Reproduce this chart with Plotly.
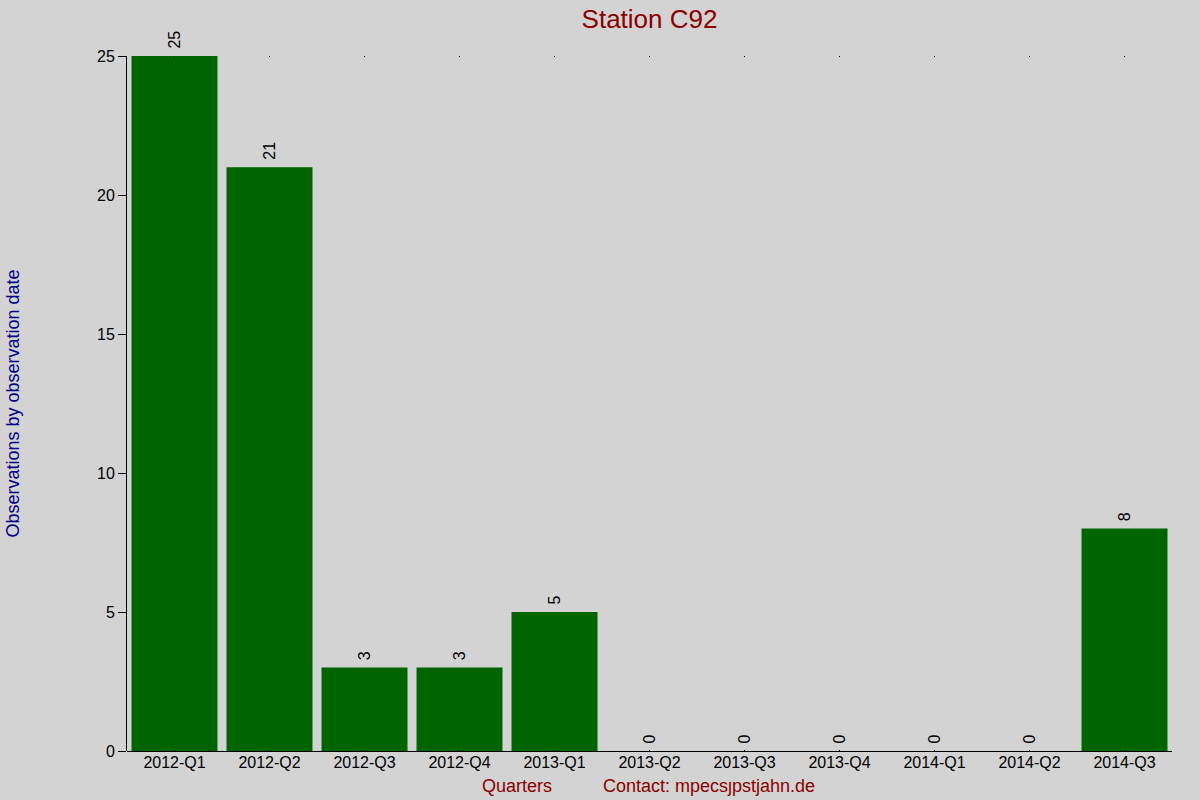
import plotly.graph_objects as go

# Observations per quarter for station C92
quarters = ["2012-Q1", "2012-Q2", "2012-Q3", "2012-Q4", "2013-Q1", "2013-Q2",
            "2013-Q3", "2013-Q4", "2014-Q1", "2014-Q2", "2014-Q3"]
counts = [25, 21, 3, 3, 5, 0, 0, 0, 0, 0, 8]
y_ticks = [0, 5, 10, 15, 20, 25]

FONT = "Liberation Sans, Arial, sans-serif"
BG = "#D3D3D3"

fig = go.Figure()
fig.add_trace(go.Bar(
    x=quarters,
    y=counts,
    marker=dict(color="#006400", line=dict(width=0)),
    # leading nbsp keeps the rotated labels a little clear of the bar tops
    text=["\u00a0" + str(c) for c in counts],
    textposition="outside",
    textangle=-90,
    textfont=dict(family=FONT, size=16, color="black"),
    cliponaxis=False,
))

fig.update_layout(
    width=1200,
    height=800,
    paper_bgcolor=BG,
    plot_bgcolor=BG,
    showlegend=False,
    bargap=0.095,
    margin=dict(l=127, r=28, t=56, b=49),
    font=dict(family=FONT, color="black"),
    title=dict(text="Station C92", x=0.5, xref="paper", xanchor="center",
               y=0.977, yref="container", yanchor="middle",
               font=dict(size=26, color="#8B0000")),
    xaxis=dict(
        showline=False,
        showgrid=False,
        zeroline=False,
        ticks="inside",
        ticklen=1,
        tickcolor="black",
        mirror="ticks",
        tickfont=dict(size=16, color="black"),
    ),
    yaxis=dict(
        range=[0, 25],
        tickvals=y_ticks,
        showline=True,
        linecolor="black",
        linewidth=1,
        showgrid=False,
        zeroline=True,
        zerolinecolor="black",
        zerolinewidth=1,
        ticks="outside",
        ticklen=8,
        tickcolor="black",
        tickfont=dict(size=16, color="black"),
    ),
)

# y caption far out on the left, axis caption and contact along the bottom
fig.add_annotation(text="Observations by observation date", x=-0.110, y=0.5,
                   xref="paper", yref="paper", showarrow=False, textangle=-90,
                   xanchor="center", yanchor="middle",
                   font=dict(size=18, color="#00008B"))
fig.add_annotation(text="Quarters", x=0.373, y=-0.05, xref="paper", yref="paper",
                   showarrow=False, yanchor="middle",
                   font=dict(size=18, color="#8B0000"))
fig.add_annotation(text="Contact: mpecsȷpstjahn.de", x=0.557, y=-0.05,
                   xref="paper", yref="paper", showarrow=False, yanchor="middle",
                   font=dict(size=18, color="#8B0000"))

fig.write_html("out.html", config={"displayModeBar": False},
               post_script="document.body.style.margin='0px';")
